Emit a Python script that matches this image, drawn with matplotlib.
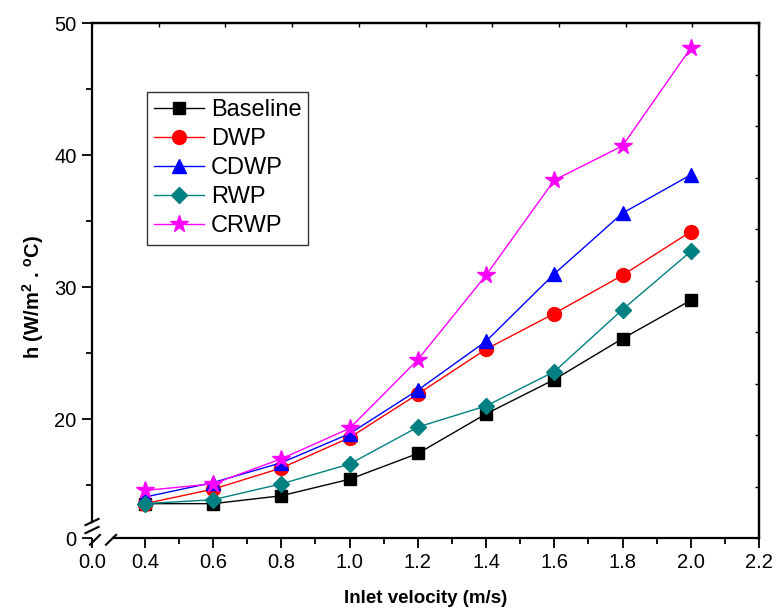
import matplotlib
matplotlib.use("Agg")
from matplotlib import pyplot as plt

plt.rcParams['font.family'] = ['Liberation Sans', 'DejaVu Sans']
plt.rcParams['mathtext.fontset'] = 'custom'
plt.rcParams['mathtext.rm'] = 'Liberation Sans:bold'
plt.rcParams['mathtext.bf'] = 'Liberation Sans:bold'

# inlet velocity (m/s)
velocity = [0.4, 0.6, 0.8, 1.0, 1.2, 1.4, 1.6, 1.8, 2.0]

# heat transfer coefficient h (W/m2.oC)
baseline = [13.6, 13.6, 14.2, 15.45, 17.4, 20.4, 23.0, 26.1, 29.0]
dwp = [13.6, 14.7, 16.3, 18.6, 21.9, 25.3, 28.0, 30.9, 34.2]
cdwp = [14.1, 15.2, 16.7, 18.9, 22.2, 25.9, 31.0, 35.6, 38.5]
rwp = [13.6, 13.9, 15.1, 16.6, 19.4, 21.0, 23.6, 28.3, 32.7]
crwp = [14.6, 15.1, 17.0, 19.3, 24.5, 30.9, 38.1, 40.7, 48.1]

names = ['Baseline', 'DWP', 'CDWP', 'RWP', 'CRWP']
colors = ['black', 'red', 'blue', '#008080', 'magenta']
markers = ['s', 'o', '^', 'D', '*']
msizes = [8.5, 10, 10, 8, 13]

fig = plt.figure(figsize=(7.77, 6.10), dpi=100)
ax = fig.add_axes([92/777, 1 - 538/610, 667/777, 515/610])

for ys, name, c, m, ms in zip([baseline, dwp, cdwp, rwp, crwp], names, colors, markers, msizes):
    ax.plot(velocity, ys, color=c, marker=m, markersize=ms, linewidth=1.0,
            markeredgecolor=c, label=name)

# axes with breaks near the origin ("0" stands in for the cut-off part)
x0, y0 = 0.245, 11.0
ax.set_xlim(x0, 2.2)
ax.set_ylim(y0, 50)
ax.set_xticks([x0, 0.4, 0.6, 0.8, 1.0, 1.2, 1.4, 1.6, 1.8, 2.0, 2.2])
ax.set_xticklabels(['0.0', '0.4', '0.6', '0.8', '1.0', '1.2', '1.4', '1.6', '1.8', '2.0', '2.2'])
ax.set_xticks([0.5, 0.7, 0.9, 1.1, 1.3, 1.5, 1.7, 1.9, 2.1], minor=True)
ax.set_yticks([y0, 20, 30, 40, 50])
ax.set_yticklabels(['0', '20', '30', '40', '50'])
ax.set_yticks([15, 25, 35, 45], minor=True)
ax.tick_params(which='major', direction='out', length=7, width=1.3, labelsize=14.5, pad=4)
ax.tick_params(which='minor', direction='out', length=4, width=1.3)
ax.spines['top'].set_visible(False)
ax.spines['right'].set_visible(False)
ax.spines['left'].set_linewidth(1.6)
ax.spines['bottom'].set_linewidth(1.6)
ax.spines['left'].set_bounds(12.2, 50)
ax.spines['bottom'].set_bounds(0.306, 2.2)

# top / right frame with small inward ticks
ax2 = ax.twinx()
ax2.set_ylim(0, 10)
ax2.set_yticks(range(11))
ax2.tick_params(axis='y', direction='in', length=3, width=1, labelright=False)
ax3 = ax.twiny()
ax3.set_xlim(0, 10)
ax3.set_xticks(range(11))
ax3.tick_params(axis='x', direction='in', length=3, width=1, labeltop=False)
for a in (ax2, ax3):
    a.spines['left'].set_visible(False)
    a.spines['bottom'].set_visible(False)
    a.spines['top'].set_linewidth(1.6)
    a.spines['right'].set_linewidth(1.6)

# break marks
kw = dict(transform=ax.transAxes, color='black', linewidth=1.5, clip_on=False)
for yc in (0.031, 0.0155):
    ax.plot([-0.0098, 0.0098], [yc - 0.006, yc + 0.006], **kw)
for xc in (0.0045, 0.0285):
    ax.plot([xc - 0.0075, xc + 0.0075], [-0.013, 0.006], **kw)

ax.set_xlabel('Inlet velocity (m/s)', fontsize=13.5, fontweight='bold', labelpad=13)
ax.set_ylabel(r'h (W/m$^{\mathrm{2}}$ . $^{\mathrm{o}}$C)', fontsize=14.5, fontweight='bold')
ax.yaxis.set_label_coords(-0.069, 0.468)

leg = ax.legend(loc='upper left', bbox_to_anchor=(0.0825, 0.866), borderaxespad=0,
                fontsize=17, frameon=True, fancybox=False, edgecolor='black',
                handlelength=2.1, handletextpad=0.3, labelspacing=0.3,
                borderpad=0.3, numpoints=1)
leg.get_frame().set_linewidth(1.0)
leg.set_zorder(5)

fig.savefig('out.png', dpi=100)
